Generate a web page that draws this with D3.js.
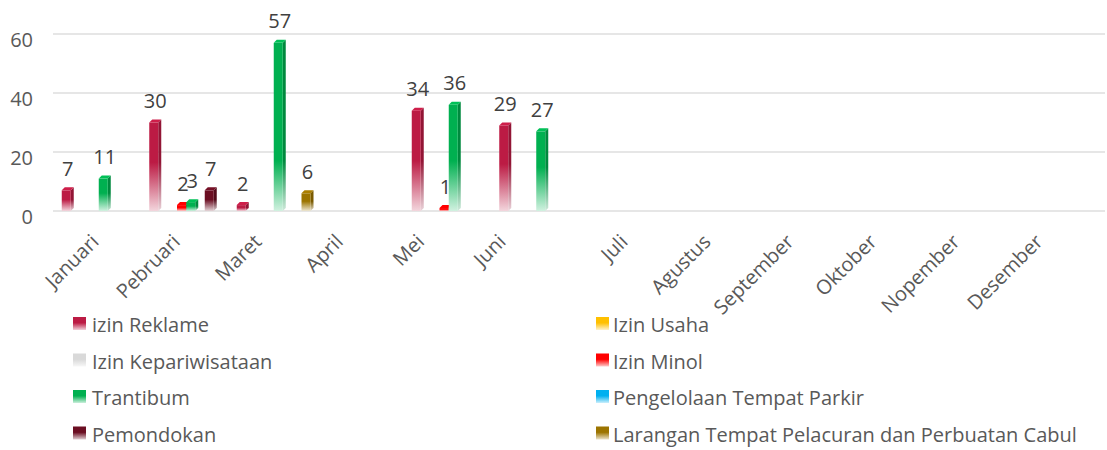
<!DOCTYPE html>
<html><head><meta charset="utf-8">
<script src="https://cdn.jsdelivr.net/npm/d3@7"></script>
<style>
body{margin:0;background:#fff}
svg{display:block}
text{font-family:'Open Sans',Lato,sans-serif;fill:#595959}
</style>
</head><body><svg id="c" width="1107" height="450"></svg>
<script>
const months = ["Januari","Pebruari","Maret","April","Mei","Juni","Juli","Agustus","September","Oktober","Nopember","Desember"];
const seriesNames = ["izin Reklame","Izin Usaha","Izin Kepariwisataan","Izin Minol","Trantibum","Pengelolaan Tempat Parkir","Pemondokan","Larangan Tempat Pelacuran dan Perbuatan Cabul"];
const seriesColors = ["#BC1B44","#FFC000","#D9D9D9","#FF0000","#00B050","#00B0F0","#6B0E22","#9C7400"];
const izinReklame      = [7,30,2,null,34,29,null,null,null,null,null,null];
const izinUsaha        = [null,null,null,null,null,null,null,null,null,null,null,null];
const izinKepariwisataan = [null,null,null,null,null,null,null,null,null,null,null,null];
const izinMinol        = [null,2,null,null,1,null,null,null,null,null,null,null];
const trantibum        = [11,3,57,null,36,27,null,null,null,null,null,null];
const pengelolaanParkir = [null,null,null,null,null,null,null,null,null,null,null,null];
const pemondokan       = [null,7,null,null,null,null,null,null,null,null,null,null];
const larangan         = [null,null,6,null,null,null,null,null,null,null,null,null];
const yTicks = [0,20,40,60];

const seriesValues = [izinReklame,izinUsaha,izinKepariwisataan,izinMinol,trantibum,pengelolaanParkir,pemondokan,larangan];

const svg = d3.select("#c");
const defs = svg.append("defs");

const y = d3.scaleLinear().domain([0,60]).range([211,34]);
const x0 = d3.scaleBand().domain(months).range([55,1105]);
const x1 = d3.scaleBand().domain(seriesNames).range([6.75, 80.75]);
const color = d3.scaleOrdinal().domain(seriesNames).range(seriesColors);
// label anchor positions (right ends of rotated labels)
const xl = d3.scaleLinear().domain([0,5,6,11]).range([100,507,629,1044]);

const barW = 9, dx = 3, dy = 3;

// gridlines
svg.append("g").selectAll("line").data(yTicks).join("line")
  .attr("x1",53).attr("x2",1105)
  .attr("y1",d=>y(d)).attr("y2",d=>y(d))
  .attr("stroke","#e6e6e6").attr("stroke-width",2);

// y labels
svg.append("g").selectAll("text").data(yTicks).join("text")
  .attr("x",33).attr("y",d=>y(d)+5)
  .attr("text-anchor","end").attr("dominant-baseline","central")
  .attr("font-size",20).text(d=>d);

// bars
const bars = [];
seriesNames.forEach((s,si)=>{
  seriesValues[si].forEach((v,mi)=>{
    if(v===null) return;
    bars.push({s,si,m:months[mi],v});
  });
});

const pale = (c,t)=>d3.interpolateRgb(c,"#ffffff")(t);
const gBars = svg.append("g");
bars.forEach((b,i)=>{
  const c = color(b.s);
  const x = x0(b.m) + x1(b.s);
  const top = y(b.v), base = y(0);
  const fadeStart = Math.max(top + 0.45*(base-top), y(17));
  const mk = (id,col)=>{
    const g = defs.append("linearGradient").attr("id",id)
      .attr("gradientUnits","userSpaceOnUse").attr("x1",0).attr("x2",0)
      .attr("y1",fadeStart).attr("y2",base);
    g.append("stop").attr("offset",0).attr("stop-color",col);
    g.append("stop").attr("offset",1).attr("stop-color",pale(col,0.82));
  };
  const side = d3.color(c).darker(0.7).formatHex();
  mk("gf"+i,c); mk("gs"+i,side);
  gBars.append("path")
    .attr("d",`M${x+barW},${top}L${x+barW+dx},${top-dy}L${x+barW+dx},${base-dy}L${x+barW},${base}Z`)
    .attr("fill",`url(#gs${i})`);
  gBars.append("rect").attr("x",x).attr("y",top).attr("width",barW).attr("height",base-top)
    .attr("fill",`url(#gf${i})`);
  gBars.append("path")
    .attr("d",`M${x},${top}L${x+barW},${top}L${x+barW+dx},${top-dy}L${x+dx},${top-dy}Z`)
    .attr("fill",d3.color(c).brighter(0.25).formatHex());
});

// data labels
svg.append("g").selectAll("text").data(bars).join("text")
  .attr("x",d=>x0(d.m)+x1(d.s)+(barW+dx)/2)
  .attr("y",d=>y(d.v)-14.5)
  .attr("text-anchor","middle").attr("font-size",20)
  .style("fill","#404040")
  .text(d=>d.v);

// x labels
svg.append("g").selectAll("text").data(months).join("text")
  .attr("text-anchor","end").attr("font-size",20)
  .attr("transform",(d,i)=>`translate(${xl(i)},${243}) rotate(-45)`)
  .text(d=>d);

// legend
const legCols = [73,596];
const legRows = [332,368.5,405,441.5];
const leg = svg.append("g").selectAll("g").data(seriesNames).join("g")
  .attr("transform",(d,i)=>`translate(${legCols[i%2]},${legRows[Math.floor(i/2)]})`);
seriesNames.forEach((s,i)=>{
  const g = defs.append("linearGradient").attr("id","lg"+i).attr("x1",0).attr("x2",0).attr("y1",0).attr("y2",1);
  g.append("stop").attr("offset",0.45).attr("stop-color",seriesColors[i]);
  g.append("stop").attr("offset",1).attr("stop-color",pale(seriesColors[i],0.8));
});
leg.append("rect").attr("x",0).attr("y",-15).attr("width",13).attr("height",13)
  .attr("fill",(d,i)=>`url(#lg${i})`);
leg.append("text").attr("x",(d,i)=>i%2?17:19).attr("y",0).attr("font-size",20).text(d=>d);
</script>
</body></html>
